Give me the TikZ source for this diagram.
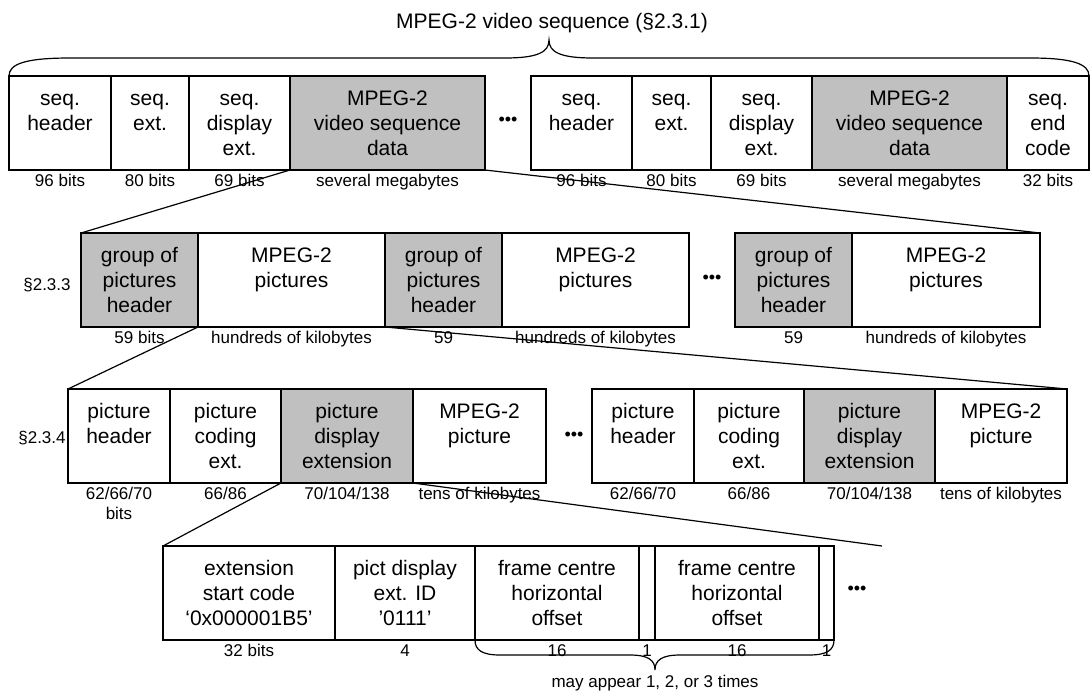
\documentclass[tikz,border=0pt]{standalone}
\usepackage{fontspec}
\setmainfont{Liberation Sans}
\usetikzlibrary{calc}
\definecolor{cellgray}{RGB}{192,192,192}
\tikzset{
  cellbox/.style={draw=black, line width=1.4pt, inner sep=0pt, outer sep=0pt},
  whitecell/.style={cellbox, fill=white},
  graycell/.style={cellbox, fill=cellgray},
  celltext/.style={font=\fontsize{21}{25}\selectfont, align=center, inner sep=0pt},
  sizelabel/.style={font=\fontsize{17}{20}\selectfont, align=center, inner sep=0pt, anchor=north},
  seclabel/.style={font=\fontsize{17}{20}\selectfont, inner sep=0pt, anchor=base},
  titletext/.style={font=\fontsize{21}{25}\selectfont, inner sep=0pt, anchor=base},
  dotstext/.style={font=\fontsize{18}{20}\selectfont, inner sep=0pt},
  conn/.style={line width=1.2pt},
  bracepath/.style={line width=1.2pt},
}
% name, x1, x2, top, bottom, style, text, size label
\newcommand{\mkcell}[8]{%
  \node[#6, minimum width={#3-#2}, minimum height={#5-#4}, anchor=north west] (#1) at (#2,#4) {};
  \node[celltext, anchor=north] (#1-t) at ($(#1.north)+(0,12)$) {\strut #7};
  \node[sizelabel] (#1-l) at ($(#1.south)+(0,2)$) {\strut #8};
}
\begin{document}
\begin{tikzpicture}[x=1pt,y=-1pt]
\useasboundingbox (0,0) rectangle (1091,694);

% title and top brace
\node[titletext] (title) at (552,28) {MPEG-2 video sequence (§2.3.1)};
\draw[bracepath] (9,76) .. controls (9,64) and (25,58) .. (70,58) -- (505,58)
  .. controls (538,58) and (549,52) .. (549,40)
  .. controls (549,52) and (560,58) .. (593,58) -- (1030,58)
  .. controls (1073,58) and (1089,64) .. (1089,76);

% row 1
\mkcell{r1a}{9}{111}{76}{170}{whitecell}{seq.\\header}{96 bits}
\mkcell{r1b}{111}{189}{76}{170}{whitecell}{seq.\\ext.}{80 bits}
\mkcell{r1c}{189}{290}{76}{170}{whitecell}{seq.\\display\\ext.}{69 bits}
\mkcell{r1d}{290}{485}{76}{170}{graycell}{MPEG-2\\video sequence\\data}{several megabytes}
\node[dotstext] (d1) at (508,121) {•••};
\mkcell{r1e}{531}{632}{76}{170}{whitecell}{seq.\\header}{96 bits}
\mkcell{r1f}{632}{711}{76}{170}{whitecell}{seq.\\ext.}{80 bits}
\mkcell{r1g}{711}{812}{76}{170}{whitecell}{seq.\\display\\ext.}{69 bits}
\mkcell{r1h}{812}{1007}{76}{170}{graycell}{MPEG-2\\video sequence\\data}{several megabytes}
\mkcell{r1i}{1007}{1089}{76}{170}{whitecell}{seq.\\end\\code}{32 bits}

% row 2
\node[seclabel] (s233) at (47,290) {§2.3.3};
\mkcell{r2a}{81}{198}{233}{327}{graycell}{group of\\pictures\\header}{59 bits}
\mkcell{r2b}{198}{385}{233}{327}{whitecell}{MPEG-2\\pictures}{hundreds of kilobytes}
\mkcell{r2c}{385}{502}{233}{327}{graycell}{group of\\pictures\\header}{59}
\mkcell{r2d}{502}{689}{233}{327}{whitecell}{MPEG-2\\pictures}{hundreds of kilobytes}
\node[dotstext] (d2) at (712,279) {•••};
\mkcell{r2e}{735}{852}{233}{327}{graycell}{group of\\pictures\\header}{59}
\mkcell{r2f}{852}{1040}{233}{327}{whitecell}{MPEG-2\\pictures}{hundreds of kilobytes}

% row 3
\node[seclabel] (s234) at (42,443) {§2.3.4};
\mkcell{r3a}{68}{170}{389}{483}{whitecell}{picture\\header}{62/66/70\\bits}
\mkcell{r3b}{170}{281}{389}{483}{whitecell}{picture\\coding\\ext.}{66/86}
\mkcell{r3c}{281}{413}{389}{483}{graycell}{picture\\display\\extension}{70/104/138}
\mkcell{r3d}{413}{546}{389}{483}{whitecell}{MPEG-2\\picture}{tens of kilobytes}
\node[dotstext] (d3) at (574,436) {•••};
\mkcell{r3e}{592}{694}{389}{483}{whitecell}{picture\\header}{62/66/70}
\mkcell{r3f}{694}{804}{389}{483}{whitecell}{picture\\coding\\ext.}{66/86}
\mkcell{r3g}{804}{935}{389}{483}{graycell}{picture\\display\\extension}{70/104/138}
\mkcell{r3h}{935}{1067}{389}{483}{whitecell}{MPEG-2\\picture}{tens of kilobytes}

% row 4
\mkcell{r4a}{163}{335}{546}{640}{whitecell}{extension\\start code\\‘0x000001B5’}{32 bits}
\mkcell{r4b}{335}{475}{546}{640}{whitecell}{pict display\\ext. ID\\’0111’}{4}
\mkcell{r4c}{475}{639}{546}{640}{whitecell}{frame centre\\horizontal\\offset}{16}
\mkcell{r4d}{639}{655}{546}{640}{whitecell}{}{1}
\mkcell{r4e}{655}{819}{546}{640}{whitecell}{frame centre\\horizontal\\offset}{16}
\mkcell{r4f}{819}{834}{546}{640}{whitecell}{}{1}
\node[dotstext] (d4) at (857,590) {•••};
\coordinate (c4end) at (882,546);

% bottom brace
\draw[bracepath] (r4c.south west) .. controls (475,650) and (482,655) .. (500,655) -- (630,655)
  .. controls (648,655) and (655,660) .. (655,670)
  .. controls (655,660) and (662,655) .. (680,655) -- (809,655)
  .. controls (827,655) and (834,650) .. (r4f.south east);
\node[seclabel] (times) at (655,687) {may appear 1, 2, or 3 times};

% zoom connectors
\draw[conn] (r1d.south west) -- (r2a.north west);
\draw[conn] (r1d.south east) -- (r2f.north east);
\draw[conn] (r2b.south west) -- (r3a.north west);
\draw[conn] (r2b.south east) -- (r3h.north east);
\draw[conn] (r3c.south west) -- (r4a.north west);
\draw[conn] (r3c.south east) -- (c4end);
\end{tikzpicture}
\end{document}
